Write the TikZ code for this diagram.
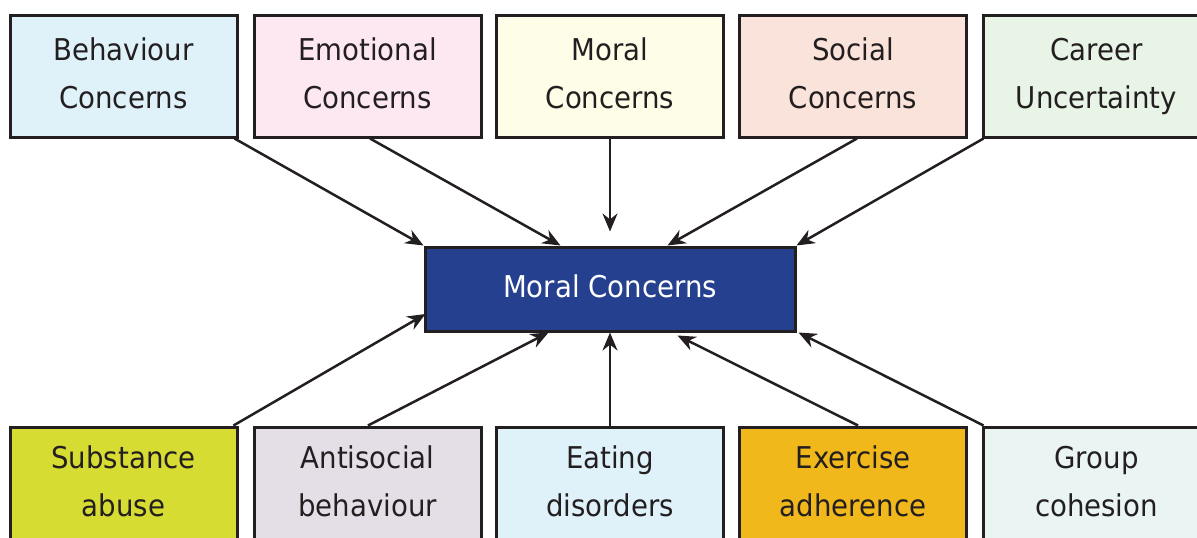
\documentclass[tikz,border=0pt]{standalone}
\usepackage{fontspec}
\setmainfont[FakeStretch=0.92]{DejaVu Sans}
\usetikzlibrary{arrows.meta,calc}
\definecolor{bordc}{HTML}{231F20}
\definecolor{cBeh}{HTML}{DFF2FA}
\definecolor{cEmo}{HTML}{FDE8F1}
\definecolor{cMor}{HTML}{FEFDE8}
\definecolor{cSoc}{HTML}{FAE3DA}
\definecolor{cCar}{HTML}{E8F4E6}
\definecolor{cSub}{HTML}{D6DC32}
\definecolor{cAnt}{HTML}{E4DFE6}
\definecolor{cEat}{HTML}{DFF2FA}
\definecolor{cExe}{HTML}{F1B81C}
\definecolor{cGrp}{HTML}{EAF4F3}
\definecolor{cCen}{HTML}{25408F}
\newcommand{\tline}[1]{\vphantom{Ay}#1}
\newcommand{\bline}[1]{\vphantom{Ay}#1\rule[-13pt]{0pt}{1pt}}
\begin{document}
\begin{tikzpicture}[x=1pt,y=-1pt,
  factor/.style={draw=bordc,line width=3pt,minimum width=227pt,minimum height=122pt,
    inner sep=0pt,align=center,text=bordc,font=\fontsize{30}{48}\selectfont},
  central/.style={draw=bordc,line width=3pt,fill=cCen,minimum width=370pt,minimum height=84pt,
    inner sep=0pt,text=white,font=\fontsize{30}{36}\selectfont},
  arr/.style={draw=bordc,line width=2.5pt,-{Stealth[length=18pt,width=15pt]}}]
\useasboundingbox (0,0) rectangle (1197,538);
\clip (0,0) rectangle (1197,538);
\node[central] (c) at (610,289) {\tline{Moral Concerns}};
\node[factor,fill=cBeh] (t1) at (123.5,76) {\tline{Behaviour}\\\tline{Concerns}};
\node[factor,fill=cEmo] (t2) at (367.5,76) {\tline{Emotional}\\\tline{Concerns}};
\node[factor,fill=cMor] (t3) at (610,76) {\tline{Moral}\\\tline{Concerns}};
\node[factor,fill=cSoc] (t4) at (853,76) {\tline{Social}\\\tline{Concerns}};
\node[factor,fill=cCar] (t5) at (1096.5,76) {\tline{Career}\\\tline{Uncertainty}};
\node[factor,fill=cSub] (b1) at (123.5,488) {\tline{Substance}\\\bline{abuse}};
\node[factor,fill=cAnt] (b2) at (367.5,488) {\tline{Antisocial}\\\bline{behaviour}};
\node[factor,fill=cEat] (b3) at (610,488) {\tline{Eating}\\\bline{disorders}};
\node[factor,fill=cExe] (b4) at (853,488) {\tline{Exercise}\\\bline{adherence}};
\node[factor,fill=cGrp] (b5) at (1096.5,488) {\tline{Group}\\\bline{cohesion}};
% top arrows
\draw[arr] ([xshift=-4pt]t1.south east) -- (c.north west);
\draw[arr] ([xshift=2.5pt]t2.south) -- ([xshift=137pt]c.north west);
\draw[arr] (t3.south) -- ([yshift=14pt]c.north);
\draw[arr] ([xshift=4pt]t4.south) -- ([xshift=-129pt]c.north east);
\draw[arr] ([xshift=2pt]t5.south west) -- (c.north east);
% bottom arrows
\draw[arr] ([xshift=-5pt]b1.north east) -- ([xshift=2pt,yshift=-25pt]c.west);
\draw[arr] ([xshift=0.5pt]b2.north) -- ([xshift=125pt]c.south west);
\draw[arr] (b3.north) -- (c.south);
\draw[arr] ([xshift=5pt]b4.north) -- ([xshift=-119pt,yshift=-3pt]c.south east);
\draw[arr] ([xshift=2pt]b5.north west) -- ([xshift=2pt]c.south east);
\end{tikzpicture}
\end{document}
